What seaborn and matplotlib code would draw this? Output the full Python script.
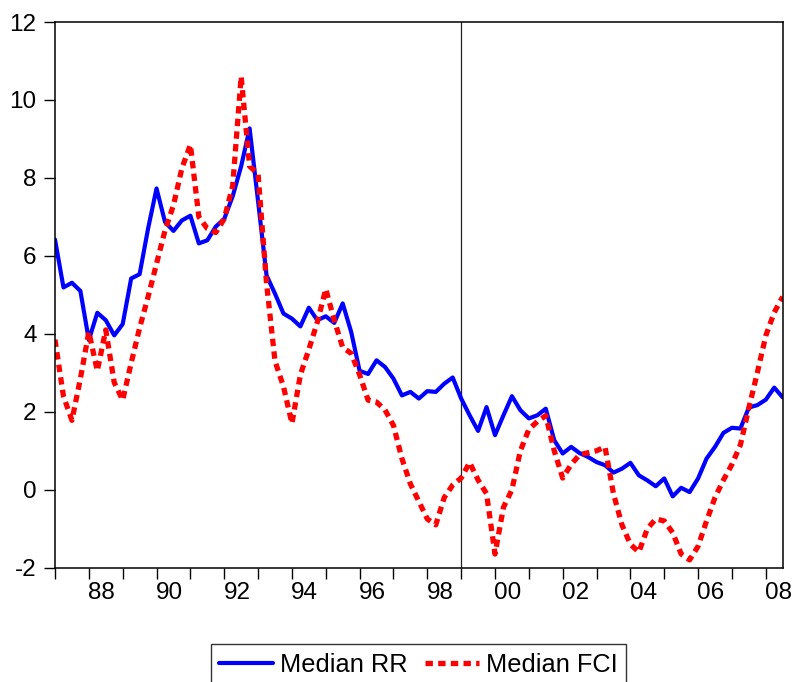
import numpy as np
import pandas as pd
import matplotlib
matplotlib.use("Agg")
import matplotlib.pyplot as plt
import seaborn as sns
from matplotlib.lines import Line2D

# ---- data (quarterly, 1987Q1 .. 2008Q3) ----
quarters = [str(p) for p in pd.period_range("1987Q1", "2008Q3", freq="Q")]

median_rr = [
    6.42, 5.19, 5.31, 5.10, 3.84, 4.54, 4.35, 3.96, 4.25, 5.42,
    5.53, 6.70, 7.73, 6.87, 6.64, 6.91, 7.03, 6.32, 6.40, 6.75,
    6.95, 7.53, 8.30, 9.27, 7.40, 5.50, 5.03, 4.52, 4.39, 4.19,
    4.67, 4.35, 4.45, 4.28, 4.78, 4.05, 3.05, 2.97, 3.32, 3.15,
    2.85, 2.42, 2.51, 2.34, 2.53, 2.51, 2.72, 2.88, 2.34, 1.91,
    1.51, 2.12, 1.40, 1.91, 2.40, 2.04, 1.83, 1.91, 2.08, 1.27,
    0.93, 1.10, 0.94, 0.84, 0.71, 0.63, 0.44, 0.54, 0.69, 0.37,
    0.24, 0.09, 0.29, -0.17, 0.05, -0.06, 0.29, 0.80, 1.10, 1.46,
    1.59, 1.57, 2.11, 2.17, 2.31, 2.62, 2.37,
]

median_fci = [
    3.85, 2.40, 1.78, 2.85, 4.05, 3.05, 4.10, 2.75, 2.30, 3.25,
    4.15, 4.95, 5.80, 6.65, 7.30, 8.25, 8.85, 7.00, 6.70, 6.60,
    6.95, 7.80, 10.60, 8.30, 8.10, 5.30, 3.30, 2.65, 1.70, 2.95,
    3.60, 4.30, 5.15, 4.35, 3.65, 3.50, 2.95, 2.30, 2.25, 2.05,
    1.65, 0.80, 0.15, -0.30, -0.75, -0.90, -0.20, 0.12, 0.30, 0.70,
    0.25, -0.10, -1.65, -0.45, 0.00, 1.00, 1.55, 1.75, 1.90, 1.00,
    0.30, 0.65, 0.90, 0.95, 1.00, 1.10, -0.10, -0.90, -1.40, -1.60,
    -1.00, -0.75, -0.80, -1.10, -1.65, -1.80, -1.45, -0.80, -0.20, 0.25,
    0.65, 1.15, 2.10, 3.00, 3.95, 4.55, 4.95,
]

series_names = ["Median RR", "Median FCI"]
year_labels = ["88", "90", "92", "94", "96", "98", "00", "02", "04", "06", "08"]
y_ticks = [-2, 0, 2, 4, 6, 8, 10, 12]
vline_quarter = "1999Q1"

# ---- style ----
sns.set_style("ticks")
plt.rcParams["font.family"] = ["Liberation Sans", "DejaVu Sans"]
plt.rcParams["axes.unicode_minus"] = False
plt.rcParams["text.color"] = "black"

W, H = 795, 682
fig = plt.figure(figsize=(W / 100, H / 100), dpi=100)
left, right, top, bottom = 55, 782.7, 22, 567.7
ax = fig.add_axes([left / W, 1 - bottom / H, (right - left) / W, (bottom - top) / H])

obs = np.arange(len(quarters))
df = pd.DataFrame({"obs": obs, series_names[0]: median_rr, series_names[1]: median_fci})
long = df.melt(id_vars="obs", var_name="series", value_name="value")

colors = {"Median RR": "#0000FF", "Median FCI": "#FF0000"}
dashes = {"Median RR": "", "Median FCI": (1.4, 1.0)}
sns.lineplot(data=long, x="obs", y="value", hue="series", style="series",
             palette=colors, dashes=dashes, hue_order=series_names,
             style_order=series_names, legend=False, ax=ax)
widths = {"Median RR": 3.0, "Median FCI": 3.8}
for line, name in zip(ax.lines, series_names):
    line.set_linewidth(widths[name])

ax.axvline(quarters.index(vline_quarter), color="#222222", lw=0.9, zorder=0.5)

ax.set_xlim(0, len(quarters) - 1)
ax.set_ylim(-2, 12)
ax.set_yticks(y_ticks)
ax.set_yticklabels([str(v) for v in y_ticks])
ax.set_xticks(np.arange(0, len(quarters) - 1, 4))
ax.set_xticklabels([])
ax.set_xticks([5.5 + 8 * k for k in range(len(year_labels))], minor=True)
ax.set_xticklabels(year_labels, minor=True)
ax.set_xlabel("")
ax.set_ylabel("")

ax.tick_params(axis="both", which="major", direction="out", length=7.8, width=1,
               color="black", labelcolor="black", labelsize=17.5, pad=5.5)
ax.tick_params(axis="x", which="minor", length=0, labelsize=17.5, pad=10,
               labelcolor="black")
for s in ax.spines.values():
    s.set_visible(True)
    s.set_color("black")
    s.set_linewidth(1.1)

handles = []
for n in series_names:
    h = Line2D([], [], color=colors[n], lw=widths[n])
    if dashes[n] != "":
        h.set_dashes(dashes[n])
    handles.append(h)
leg = fig.legend(handles, series_names, loc="upper center",
                 bbox_to_anchor=(418.5 / W, 1 - 644 / H), ncol=2, frameon=True,
                 fancybox=False, edgecolor="black", fontsize=18.3, handlelength=2.1,
                 handletextpad=0.28, columnspacing=0.7, borderpad=0.35,
                 borderaxespad=0, labelcolor="black")
leg.get_frame().set_linewidth(1.0)

fig.savefig("out.png", dpi=100)
